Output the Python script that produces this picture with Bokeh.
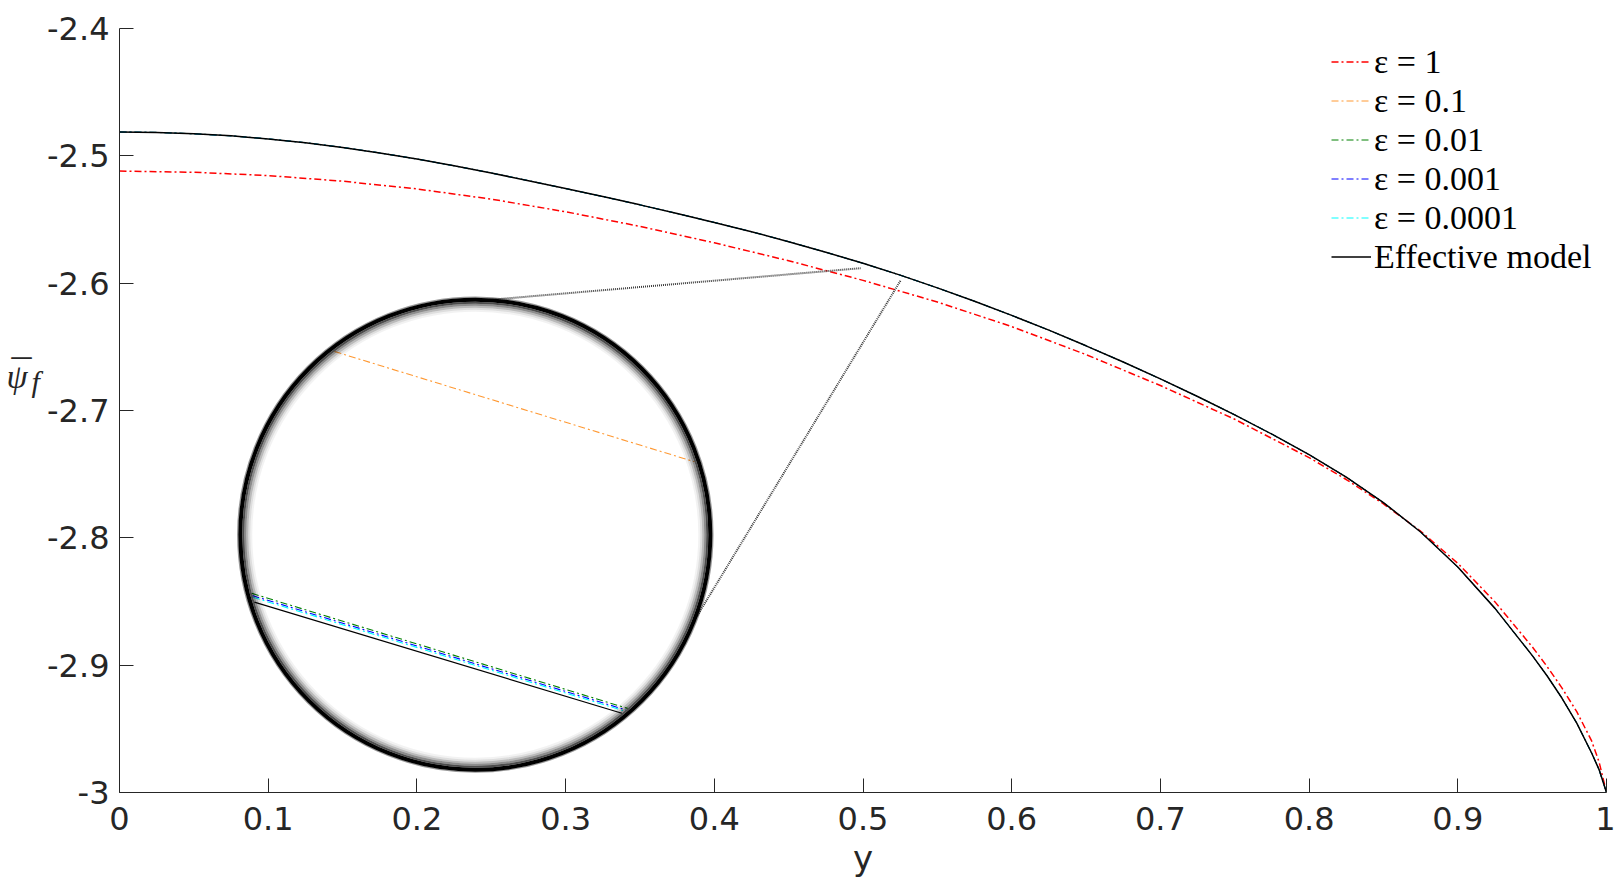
import math
from bokeh.plotting import figure
from bokeh.layouts import row
from bokeh.models import Range1d, FixedTicker, Legend, LegendItem, Label
from bokeh.embed import file_html
from bokeh.resources import INLINE

# ---------------------------------------------------------------- data
y_pos_eps_1 = [0.0, 0.05, 0.10, 0.15, 0.20, 0.25, 0.30, 0.35, 0.40, 0.45,
               0.50, 0.55, 0.60, 0.65, 0.70, 0.75, 0.80, 0.825, 0.85, 0.875,
               0.90, 0.925, 0.95, 0.96, 0.97, 0.98, 0.99, 0.995, 1.0]
psi_eps_1 = [-2.5120, -2.5129, -2.5155, -2.5199, -2.5260, -2.5340, -2.5439,
             -2.5554, -2.5683, -2.5824, -2.5978, -2.6148, -2.6341, -2.6561,
             -2.6804, -2.7069, -2.7370, -2.7542, -2.7733, -2.7948, -2.8200,
             -2.8503, -2.8855, -2.9010, -2.9178, -2.9365, -2.9595, -2.9760,
             -3.0000]

y_pos = [0.0, 0.025, 0.05, 0.075, 0.10, 0.125, 0.15, 0.175, 0.20, 0.225,
         0.25, 0.275, 0.30, 0.325, 0.35, 0.375, 0.40, 0.425, 0.45, 0.475,
         0.50, 0.525, 0.55, 0.575, 0.60, 0.625, 0.65, 0.675, 0.70, 0.725,
         0.75, 0.775, 0.80, 0.825, 0.85, 0.875, 0.90, 0.925, 0.95, 0.96,
         0.97, 0.98, 0.99, 0.995, 1.0]
psi_effective = [-2.4813, -2.4816, -2.4827, -2.4843, -2.4867, -2.4897, -2.4934,
                 -2.4977, -2.5025, -2.5078, -2.5135, -2.5195, -2.5257, -2.5320,
                 -2.5385, -2.5453, -2.5523, -2.5596, -2.5674, -2.5757, -2.5844,
                 -2.5937, -2.6037, -2.6142, -2.6253, -2.6369, -2.6492, -2.6619,
                 -2.6752, -2.6890, -2.7034, -2.7186, -2.7347, -2.7523, -2.7723,
                 -2.7954, -2.8229, -2.8554, -2.8923, -2.9083, -2.9258, -2.9455,
                 -2.9690, -2.9820, -3.0000]

# at the scale of the main axes these curves lie on the effective model
psi_eps_01 = list(psi_effective)
psi_eps_001 = list(psi_effective)
psi_eps_0001 = list(psi_effective)
psi_eps_00001 = list(psi_effective)

series_labels = ["ε = 1", "ε = 0.1", "ε = 0.01", "ε = 0.001", "ε = 0.0001",
                 "Effective model"]

x_ticks = [0.0, 0.1, 0.2, 0.3, 0.4, 0.5, 0.6, 0.7, 0.8, 0.9, 1.0]
x_tick_labels = ["0", "0.1", "0.2", "0.3", "0.4", "0.5", "0.6", "0.7", "0.8",
                 "0.9", "1"]
y_ticks = [-3.0, -2.9, -2.8, -2.7, -2.6, -2.5, -2.4]
y_tick_labels = ["-3", "-2.9", "-2.8", "-2.7", "-2.6", "-2.5", "-2.4"]

x_title = "y"
y_title_main = "ψ"
y_title_bar = "¯"
y_title_sub = "f"

# magnified window (inset): values of each series at two positions
zoom_x = [0.5106, 0.5130]
zoom_eps_01 = [-2.587794, -2.588652]
zoom_eps_001 = [-2.588843, -2.589701]
zoom_eps_0001 = [-2.588851, -2.589709]
zoom_eps_00001 = [-2.588857, -2.589715]
zoom_effective = [-2.588876, -2.589724]

# ---------------------------------------------------------------- layout / style
X0, X1 = 0.0, 1.0
Y0, Y1 = -3.0, -2.4
FRAME_W, FRAME_H = 1487, 764
BORDER_TOP, BORDER_BOTTOM, BORDER_RIGHT = 28, 60, 9
TITLE_W = 44                      # strip holding the y title
BORDER_LEFT = 118 - TITLE_W
MAIN_H = BORDER_TOP + FRAME_H + BORDER_BOTTOM
KX = FRAME_W / (X1 - X0)          # px per data unit
KY = FRAME_H / (Y1 - Y0)

ZOOM_CX, ZOOM_CY = 0.5118, -2.588773     # centre of the magnified window
MAG = 200.0
INSET_CX, INSET_CY = 0.23927, -2.79754   # centre of the magnifier circle
INSET_R = 235.0                          # px
CLIP_R = 231.0
LINK_ANGLES = [87.0, -21.8]              # deg, where the links leave the circle
LINK_END_X = [0.49852, 0.52540]
LINK_END_Y = [-2.58825, -2.59767]

TICK_FONT = "DejaVu Sans"
SERIF = "Liberation Serif"
TXT = "#262626"

colors = ["#ff0000", "#ff9933", "#008000", "#0000ff", "#00ffff", "#000000"]
DASHDOT = "7 3 2 3"

p = figure(frame_width=FRAME_W, frame_height=FRAME_H,
           x_range=Range1d(X0, X1), y_range=Range1d(Y0, Y1),
           output_backend="svg", toolbar_location=None,
           min_border_left=BORDER_LEFT, min_border_right=BORDER_RIGHT,
           min_border_top=BORDER_TOP, min_border_bottom=BORDER_BOTTOM,
           background_fill_color="white", border_fill_color="white")
p.outline_line_color = None
p.grid.visible = False

for ax in (p.xaxis, p.yaxis):
    ax.axis_line_color = TXT
    ax.axis_line_width = 1
    ax.major_tick_line_color = TXT
    ax.major_tick_in = 14
    ax.major_tick_out = 0
    ax.minor_tick_line_color = None
    ax.major_label_text_font = TICK_FONT
    ax.major_label_text_font_size = "32px"
    ax.major_label_text_color = TXT

p.xaxis.ticker = FixedTicker(ticks=x_ticks)
p.xaxis.major_label_overrides = dict(zip(x_ticks, x_tick_labels))
p.yaxis.ticker = FixedTicker(ticks=y_ticks)
p.yaxis.major_label_overrides = dict(zip(y_ticks, y_tick_labels))
p.yaxis.major_label_standoff = 10
p.xaxis.major_label_standoff = 14
p.xaxis.axis_label = x_title
p.xaxis.axis_label_text_font = TICK_FONT
p.xaxis.axis_label_text_font_size = "34px"
p.xaxis.axis_label_text_font_style = "normal"
p.xaxis.axis_label_text_color = TXT
p.xaxis.axis_label_standoff = 5

# ---------------------------------------------------------------- main curves
hidden = [psi_eps_01, psi_eps_001, psi_eps_0001, psi_eps_00001]
r1 = p.line(y_pos_eps_1, psi_eps_1, line_color=colors[0], line_width=1.5,
            line_dash=DASHDOT)
hidden_r = []
for vals, c in zip(hidden, colors[1:5]):
    hidden_r.append(p.line(y_pos, vals, line_color=c, line_width=1,
                           line_dash=DASHDOT))
r_eff = p.line(y_pos, psi_effective, line_color="black", line_width=1.5)
renderers = [r1] + hidden_r + [r_eff]

# ---------------------------------------------------------------- magnifier
def to_data(px, py):
    return INSET_CX + px / KX, INSET_CY + py / KY

for ang, ex, ey in zip(LINK_ANGLES, LINK_END_X, LINK_END_Y):
    a = math.radians(ang)
    sx, sy = to_data(INSET_R * math.cos(a), INSET_R * math.sin(a))
    p.line([sx, ex], [sy, ey], line_color="#3a3a3a", line_width=2,
           line_dash="1 1")

p.scatter([INSET_CX], [INSET_CY], marker="circle", size=2 * INSET_R,
          fill_color="white", line_color=None)

zoom_series = [zoom_eps_01, zoom_eps_001, zoom_eps_0001, zoom_eps_00001,
               zoom_effective]
for vals, c in zip(zoom_series, colors[1:]):
    qx = [(x - ZOOM_CX) * MAG * KX for x in zoom_x]
    qy = [(y - ZOOM_CY) * MAG * KY for y in vals]
    dx, dy = qx[1] - qx[0], qy[1] - qy[0]
    a = dx * dx + dy * dy
    b = 2 * (qx[0] * dx + qy[0] * dy)
    cc = qx[0] ** 2 + qy[0] ** 2 - CLIP_R ** 2
    disc = b * b - 4 * a * cc
    if disc <= 0:
        continue
    s = math.sqrt(disc)
    t1 = max(0.0, (-b - s) / (2 * a))
    t2 = min(1.0, (-b + s) / (2 * a))
    xs, ys = [], []
    for tt in (t1, t2):
        xv, yv = to_data(qx[0] + tt * dx, qy[0] + tt * dy)
        xs.append(xv)
        ys.append(yv)
    if c == "#000000":
        p.line(xs, ys, line_color=c, line_width=1.2)
    else:
        p.line(xs, ys, line_color=c, line_width=1.1, line_dash=DASHDOT)

ring = [(INSET_R + 2.5, 1.5, 0.4), (INSET_R, 4.0, 1.0),
        (INSET_R - 3.0, 2.0, 0.7), (INSET_R - 5.0, 2.0, 0.45),
        (INSET_R - 7.0, 2.0, 0.27), (INSET_R - 9.0, 2.0, 0.13),
        (INSET_R - 11.0, 2.0, 0.05)]
for rr, lw, al in ring:
    p.scatter([INSET_CX], [INSET_CY], marker="circle", size=2 * rr,
              fill_color=None, line_color="black", line_width=lw,
              line_alpha=al)

# ---------------------------------------------------------------- legend
items = [LegendItem(label=lab, renderers=[r])
         for lab, r in zip(series_labels, renderers)]
legend = Legend(items=items, location=(1212, 516), padding=0, margin=0,
                spacing=0, glyph_width=40, glyph_height=39, label_height=39,
                label_standoff=3, label_text_font=SERIF,
                label_text_font_size="34px", label_text_color="black",
                border_line_color=None, background_fill_alpha=0.0)
p.add_layout(legend)

# ---------------------------------------------------------------- y title strip
t = figure(width=TITLE_W, height=MAIN_H, x_range=Range1d(0, TITLE_W),
           y_range=Range1d(MAIN_H, 0), output_backend="svg",
           toolbar_location=None, min_border=0, x_axis_location=None,
           y_axis_location=None, background_fill_color="white",
           border_fill_color="white")
t.outline_line_color = None
t.grid.visible = False
t.add_layout(Label(x=6, y=403, text=y_title_main, text_font=SERIF,
                   text_font_style="italic", text_font_size="34px",
                   text_baseline="alphabetic", text_color=TXT))
t.add_layout(Label(x=21, y=400, text=y_title_bar, text_font=SERIF,
                   text_font_size="40px", text_align="center",
                   text_baseline="alphabetic", text_color=TXT))
t.add_layout(Label(x=31, y=409, text=y_title_sub, text_font=SERIF,
                   text_font_style="italic", text_font_size="30px",
                   text_baseline="alphabetic", text_color=TXT))

layout = row(t, p)
open("out.html", "w").write(file_html(layout, INLINE))
